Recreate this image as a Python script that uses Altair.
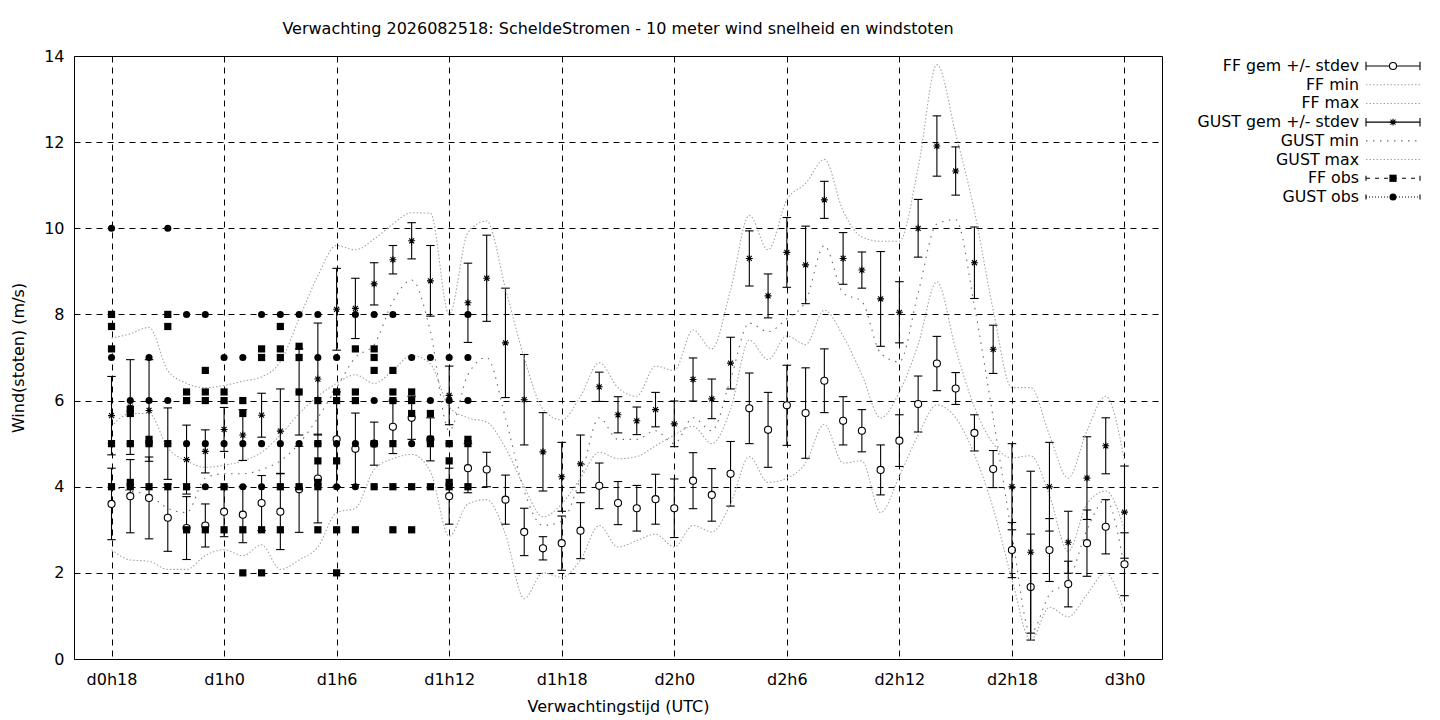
import altair as alt
import pandas as pd

# ---------------- data ----------------
hours = list(range(18, 73))

ff_mean = [3.60, 3.78, 3.74, 3.28, 3.04, 3.10, 3.42, 3.35, 3.62, 3.42,
           3.94, 4.19, 5.10, 4.88, 5.00, 5.39, 5.60, 5.10, 3.78, 4.43,
           4.40, 3.70, 2.95, 2.57, 2.69, 2.98, 4.02, 3.62, 3.50, 3.71,
           3.50, 4.14, 3.81, 4.30, 5.82, 5.32, 5.89, 5.71, 6.46, 5.53,
           5.30, 4.39, 5.07, 5.92, 6.86, 6.28, 5.25, 4.41, 2.53, 1.67,
           2.53, 1.74, 2.69, 3.07, 2.20]
ff_sd = [0.83, 0.85, 0.95, 0.78, 0.73, 0.50, 0.58, 0.65, 0.64, 0.88,
         1.00, 1.03, 1.10, 0.83, 0.50, 0.62, 0.50, 0.50, 0.65, 0.57,
         0.40, 0.57, 0.55, 0.27, 0.63, 0.65, 0.53, 0.50, 0.53, 0.58,
         0.68, 0.65, 0.61, 0.75, 0.82, 0.87, 0.93, 1.05, 0.74, 0.56,
         0.49, 0.58, 0.60, 0.65, 0.63, 0.37, 0.42, 0.43, 0.64, 1.23,
         0.73, 0.53, 0.77, 0.63, 0.73]
gust_mean = [5.65, 5.85, 5.77, 5.00, 4.63, 4.82, 5.33, 5.20, 5.66, 5.29,
             6.20, 6.50, 8.12, 8.14, 8.71, 9.27, 9.71, 8.78, 6.12, 8.27,
             8.84, 7.34, 6.02, 4.81, 4.23, 4.53, 6.32, 5.67, 5.53, 5.79,
             5.46, 6.49, 6.04, 6.87, 9.30, 8.43, 9.44, 9.15, 10.66, 9.30,
             9.03, 8.36, 8.05, 10.00, 11.91, 11.33, 9.20, 7.19, 4.00, 2.48,
             4.00, 2.71, 4.20, 4.95, 3.41]
gust_sd = [0.91, 1.10, 1.18, 0.83, 0.80, 0.50, 0.51, 0.59, 0.51, 0.98,
           1.00, 1.30, 0.95, 0.70, 0.49, 0.33, 0.42, 0.82, 0.68, 0.92,
           1.00, 1.27, 1.05, 0.91, 0.80, 0.67, 0.34, 0.42, 0.32, 0.40,
           0.53, 0.50, 0.46, 0.60, 0.64, 0.51, 0.81, 0.90, 0.43, 0.60,
           0.42, 1.10, 0.71, 0.67, 0.70, 0.56, 0.83, 0.56, 1.00, 1.88,
           1.03, 0.72, 0.96, 0.65, 1.07]
ff_min = [2.54, 2.30, 2.27, 2.08, 2.08, 2.40, 2.54, 2.40, 2.65, 2.08,
          2.30, 2.60, 3.40, 3.50, 4.40, 4.65, 4.75, 4.35, 2.85, 3.60,
          3.70, 2.90, 1.40, 2.00, 1.90, 2.30, 3.10, 2.60, 2.75, 2.90,
          2.60, 3.10, 2.95, 3.60, 4.70, 4.10, 4.20, 4.55, 5.45, 4.55,
          4.60, 3.40, 4.25, 5.20, 5.90, 5.60, 4.75, 3.50, 1.85, 0.44,
          1.20, 0.98, 1.50, 2.00, 1.06]
ff_max = [5.40, 5.70, 5.70, 4.90, 4.60, 4.45, 4.50, 4.60, 4.80, 5.20,
          5.70, 6.10, 6.40, 6.60, 6.40, 6.70, 7.05, 6.85, 5.85, 5.60,
          5.50, 4.90, 4.00, 3.30, 3.60, 4.20, 4.80, 4.65, 4.70, 4.95,
          5.20, 5.40, 5.00, 5.80, 7.40, 6.95, 7.50, 7.30, 8.10, 7.50,
          6.60, 5.60, 6.20, 7.30, 8.76, 7.20, 5.85, 5.00, 4.67, 4.72,
          3.80, 2.50, 3.60, 3.90, 3.00]
gust_min = [4.00, 3.90, 3.80, 3.50, 3.40, 4.20, 4.30, 4.30, 4.40, 4.60,
            5.00, 5.60, 6.30, 7.00, 7.30, 8.30, 8.80, 7.60, 5.30, 6.60,
            7.00, 5.60, 3.90, 3.10, 3.20, 4.20, 5.60, 5.10, 5.10, 5.30,
            5.00, 5.60, 5.30, 6.50, 7.80, 7.60, 7.90, 8.30, 9.60, 8.50,
            8.30, 7.10, 6.90, 8.50, 10.10, 10.20, 8.20, 5.60, 2.90, 0.60,
            1.50, 1.80, 3.00, 3.70, 2.10]
gust_max = [7.45, 7.55, 7.70, 6.70, 6.40, 6.30, 6.35, 6.45, 6.55, 6.90,
            7.90, 8.90, 9.60, 9.50, 9.75, 10.10, 10.36, 10.35, 8.00, 9.90,
            10.17, 8.60, 7.00, 5.80, 5.55, 6.10, 6.88, 6.30, 6.10, 6.80,
            6.70, 7.64, 7.20, 8.57, 10.30, 9.50, 10.66, 11.04, 11.60, 10.40,
            9.80, 9.70, 9.70, 11.40, 13.80, 12.20, 10.40, 8.10, 6.30, 6.30,
            5.20, 4.20, 5.30, 6.10, 4.60]

obs_hours = list(range(18, 38))
ff_obs = [
    [8.0, 7.72, 7.2, 5.0, 4.0],
    [5.8, 5.7, 5.0, 4.1, 4.0],
    [5.1, 5.0, 4.0],
    [8.0, 7.72, 5.0, 4.0],
    [6.2, 6.0, 4.0, 3.0],
    [6.7, 6.2, 6.0, 3.0],
    [6.2, 6.0, 4.0, 3.0],
    [6.0, 5.7, 3.0, 2.0],
    [7.2, 7.0, 3.0, 2.0],
    [7.72, 7.2, 7.0, 4.0, 3.0],
    [7.26, 7.0, 6.2, 4.0],
    [6.0, 5.0, 4.6, 4.1, 4.0, 3.0],
    [6.2, 6.0, 4.6, 3.0, 2.0],
    [7.2, 6.2, 6.0, 3.0],
    [7.2, 7.0, 6.7, 5.0, 4.0],
    [6.7, 6.2, 6.0, 5.0, 4.0, 3.0],
    [6.2, 6.0, 5.7, 4.0, 3.0],
    [5.7, 5.1, 5.0, 4.0],
    [5.0, 4.6, 4.1, 4.0],
    [5.1, 5.0, 4.0],
]
gust_obs = [
    [10.0, 7.0],
    [6.0, 5.0],
    [7.0, 6.0, 5.0],
    [10.0, 6.0],
    [8.0, 5.0],
    [8.0, 5.0, 4.0],
    [7.0, 5.0],
    [7.0, 5.0, 4.0],
    [8.0, 5.0, 4.0],
    [8.0, 5.0],
    [8.0, 5.0],
    [8.0, 7.0, 5.0],
    [7.0, 5.0, 4.0],
    [8.0, 5.0, 4.0],
    [8.0, 6.0],
    [8.0, 6.0],
    [7.0, 5.0],
    [7.0, 6.0],
    [7.0, 6.0, 5.0],
    [8.0, 7.0, 6.0],
]

x_tick_hours = [18, 24, 30, 36, 42, 48, 54, 60, 66, 72]
x_tick_labels = ["d0h18", "d1h0", "d1h6", "d1h12", "d1h18",
                 "d2h0", "d2h6", "d2h12", "d2h18", "d3h0"]
y_ticks = [0, 2, 4, 6, 8, 10, 12, 14]

legend_labels = ["FF gem +/- stdev", "FF min", "FF max", "GUST gem +/- stdev",
                 "GUST min", "GUST max", "FF obs", "GUST obs"]

TITLE = "Verwachting 2026082518: ScheldeStromen - 10 meter wind snelheid en windstoten"
X_TITLE = "Verwachtingstijd (UTC)"
Y_TITLE = "Wind(stoten) (m/s)"

# ---------------- tables ----------------
fc = pd.DataFrame({
    "hour": hours, "ff_mean": ff_mean, "ff_sd": ff_sd,
    "gust_mean": gust_mean, "gust_sd": gust_sd,
    "ff_min": ff_min, "ff_max": ff_max,
    "gust_min": gust_min, "gust_max": gust_max,
})
ff_obs_df = pd.DataFrame([{"hour": h, "v": v} for h, vals in zip(obs_hours, ff_obs) for v in vals])
gust_obs_df = pd.DataFrame([{"hour": h, "v": v} for h, vals in zip(obs_hours, gust_obs) for v in vals])
leg_df = pd.DataFrame({"label": legend_labels})

# ---------------- styling ----------------
FONT = "DejaVu Sans"
FS = 16
LFS = 15.8
W, H = 1088, 603
LIGHT = "#a4a4a4"
DARK = "#6a6a6a"
STAR = "M-1,0H1M0,-1V1M-0.72,-0.72L0.72,0.72M-0.72,0.72L0.72,-0.72"

label_expr = ("[" + ",".join("'%s'" % s for s in x_tick_labels) + "][indexof(["
              + ",".join(str(h) for h in x_tick_hours) + "], datum.value)]")

x_scale = alt.Scale(domain=[16, 74], nice=False, zero=False)
y_scale = alt.Scale(domain=[0, 14], nice=False, zero=False)
x_axis = alt.Axis(values=x_tick_hours, labelExpr=label_expr, grid=True,
                  gridDash=[6, 5], gridColor="black", gridOpacity=1, gridWidth=1,
                  domain=False, ticks=False, tickSize=0, labelPadding=12,
                  labelFlush=False, titleX=W / 2, titleY=47,
                  titleBaseline="middle", titleAlign="center")
y_axis = alt.Axis(values=y_ticks, format="d", grid=True,
                  gridDash=[6, 5], gridColor="black", gridOpacity=1, gridWidth=1,
                  domain=False, ticks=False, tickSize=0, labelPadding=10,
                  labelFlush=False, titleX=-56, titleY=H / 2, titleAngle=-90,
                  titleBaseline="middle", titleAlign="center")


def X():
    return alt.X("hour:Q", scale=x_scale, axis=x_axis, title=X_TITLE)


def Y(field):
    return alt.Y(field + ":Q", scale=y_scale, axis=y_axis, title=Y_TITLE)


base = alt.Chart(fc).transform_calculate(
    ff_lo="datum.ff_mean - datum.ff_sd",
    ff_hi="datum.ff_mean + datum.ff_sd",
    g_lo="datum.gust_mean - datum.gust_sd",
    g_hi="datum.gust_mean + datum.gust_sd",
)

ERR_W = 1.1
CAP = 8.5


def errbar(lo, hi, mean, point):
    rule = base.mark_rule(color="black", strokeWidth=ERR_W).encode(x=X(), y=Y(lo), y2=alt.Y2(hi + ":Q"))
    cap_lo = base.mark_tick(orient="horizontal", color="black", size=CAP, thickness=ERR_W, opacity=1).encode(x=X(), y=Y(lo))
    cap_hi = base.mark_tick(orient="horizontal", color="black", size=CAP, thickness=ERR_W, opacity=1).encode(x=X(), y=Y(hi))
    pt = base.mark_point(**point).encode(x=X(), y=Y(mean))
    return [rule, cap_lo, cap_hi, pt]


def dline(field, color, dash):
    return base.mark_line(color=color, strokeDash=dash, strokeWidth=1.1,
                          interpolate="monotone").encode(x=X(), y=Y(field))


ff_point = dict(shape="circle", filled=True, fill="white", stroke="black",
                strokeWidth=1.1, size=50, opacity=1)
gust_point = dict(shape=STAR, filled=False, stroke="black", strokeWidth=1.1,
                  size=48, opacity=1)

layers = []
layers += errbar("ff_lo", "ff_hi", "ff_mean", ff_point)
layers.append(dline("ff_min", LIGHT, [1.5, 2]))
layers.append(dline("ff_max", LIGHT, [1.5, 2]))
layers += errbar("g_lo", "g_hi", "gust_mean", gust_point)
layers.append(dline("gust_min", DARK, [1.5, 5.5]))
layers.append(dline("gust_max", LIGHT, [1.5, 2]))
layers.append(alt.Chart(ff_obs_df).mark_point(shape="square", filled=True, color="black",
                                              size=52, opacity=1).encode(x=X(), y=Y("v")))
layers.append(alt.Chart(gust_obs_df).mark_point(shape="circle", filled=True, color="black",
                                                size=50, opacity=1).encode(x=X(), y=Y("v")))
main = alt.layer(*layers)

# ---------------- legend ----------------
TXT_X = 1285
S0, S1, SM = 1292, 1346, 1319
y_leg = alt.Y("label:N", sort=legend_labels,
              scale=alt.Scale(type="point", domain=legend_labels, range=[10, 141], padding=0),
              axis=None)
lb = alt.Chart(leg_df)


def row(lbl):
    return lb.transform_filter(alt.datum.label == lbl)


leg_layers = [lb.mark_text(align="right", baseline="middle", font=FONT, fontSize=LFS,
                           color="black").encode(x=alt.value(TXT_X), y=y_leg, text="label:N")]


def leg_line(lbl, color, dash=None, width=1.1):
    kw = dict(color=color, strokeWidth=width)
    if dash:
        kw["strokeDash"] = dash
    return row(lbl).mark_rule(**kw).encode(x=alt.value(S0), x2=alt.value(S1), y=y_leg)


def leg_ticks(lbl, size):
    return [row(lbl).mark_tick(orient="vertical", color="black", size=size, thickness=1.1,
                               opacity=1).encode(x=alt.value(xv), y=y_leg) for xv in (S0, S1)]


leg_layers.append(leg_line(legend_labels[0], "black"))
leg_layers += leg_ticks(legend_labels[0], CAP)
leg_layers.append(row(legend_labels[0]).mark_point(**ff_point).encode(x=alt.value(SM), y=y_leg))
leg_layers.append(leg_line(legend_labels[1], LIGHT, [1.5, 2]))
leg_layers.append(leg_line(legend_labels[2], LIGHT, [1.5, 2]))
leg_layers.append(leg_line(legend_labels[3], "black"))
leg_layers += leg_ticks(legend_labels[3], CAP)
leg_layers.append(row(legend_labels[3]).mark_point(**gust_point).encode(x=alt.value(SM), y=y_leg))
leg_layers.append(leg_line(legend_labels[4], DARK, [1.5, 5.5]))
leg_layers.append(leg_line(legend_labels[5], LIGHT, [1.5, 2]))
leg_layers.append(leg_line(legend_labels[6], "black", [4, 5]))
leg_layers += leg_ticks(legend_labels[6], 5)
leg_layers.append(row(legend_labels[6]).mark_point(shape="square", filled=True, color="black",
                                                   size=52, opacity=1).encode(x=alt.value(SM), y=y_leg))
leg_layers.append(leg_line(legend_labels[7], "black", [1, 2]))
leg_layers += leg_ticks(legend_labels[7], 5)
leg_layers.append(row(legend_labels[7]).mark_point(shape="circle", filled=True, color="black",
                                                   size=50, opacity=1).encode(x=alt.value(SM), y=y_leg))
legend = alt.layer(*leg_layers)

chart = alt.layer(main, legend).resolve_scale(y="independent").properties(
    width=W, height=H,
    title=alt.TitleParams(text=TITLE, font=FONT, fontSize=FS, fontWeight="normal",
                          color="black", anchor="middle", frame="group", offset=11),
    autosize=alt.AutoSizeParams(type="none"),
    padding={"left": 66, "top": 48, "right": 266, "bottom": 60},
    background="white",
).configure_view(stroke="black", strokeWidth=1).configure_axis(
    labelFont=FONT, labelFontSize=FS, labelColor="black",
    titleFont=FONT, titleFontSize=FS, titleFontWeight="normal", titleColor="black",
)

chart.save("out.html", embed_options={"renderer": "svg", "actions": False})
